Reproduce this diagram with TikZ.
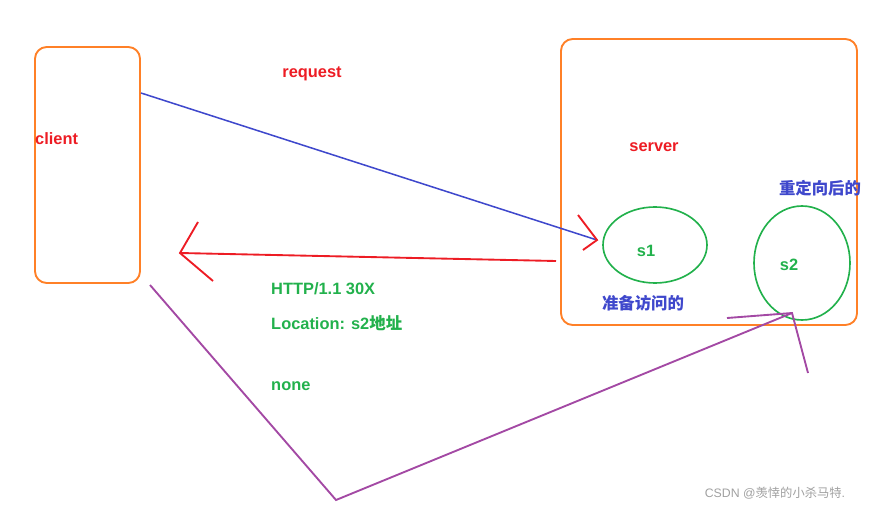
\documentclass[tikz,border=0pt]{standalone}
\usepackage{fontspec}
\setmainfont{Liberation Sans}
\newfontfamily\cjk{Noto Sans CJK SC}
\begin{document}
\begin{tikzpicture}[x=0.03cm,y=-0.03cm,
  box/.style={draw={rgb,255:red,255;green,128;blue,39},line width=1.6pt,rounded corners=10},
  ell/.style={draw={rgb,255:red,34;green,177;blue,76},line width=1.4pt},
  lbl/.style={font=\bfseries\fontsize{14}{16}\selectfont,inner sep=0pt},
  red/.style={text={rgb,255:red,237;green,28;blue,36}},
  grn/.style={text={rgb,255:red,34;green,177;blue,76}},
  blu/.style={text={rgb,255:red,63;green,72;blue,204}},
  bline/.style={draw={rgb,255:red,63;green,72;blue,204},line width=1.3pt},
  rline/.style={draw={rgb,255:red,237;green,28;blue,36},line width=1.6pt},
  pline/.style={draw={rgb,255:red,163;green,73;blue,164},line width=1.6pt}]
\useasboundingbox (0,0) rectangle (872,508);
\draw[box] (35,47) rectangle (140,283);
\draw[box] (561,39) rectangle (857,325);
\draw[ell] (655,245) ellipse [x radius=52,y radius=38];
\draw[ell] (802,263) ellipse [x radius=48,y radius=57];
\node[lbl,red,anchor=west] (client) at (35,139) {client};
\node[lbl,red] (req) at (312,74) {request};
\node[lbl,red] (server) at (654,147) {server};
\node[lbl,grn] (s1) at (646,251) {s1};
\node[lbl,grn] (s2) at (789,265) {s2};
\node[lbl,blu] (r2) at (820,188) {\cjk\bfseries 重定向后的};
\node[lbl,blu] (r1) at (643,303) {\cjk\bfseries 准备访问的};
\node[lbl,grn,anchor=west] (h) at (271,289) {HTTP/1.1 30X};
\node[lbl,grn,anchor=west] (loc) at (271,323) {Location: s2{\cjk\bfseries 地址}};
\node[lbl,grn,anchor=west] (none) at (271,386) {none};
\node[text={rgb,255:red,160;green,160;blue,160},font=\fontsize{10.5}{12}\selectfont,inner sep=0pt] (wm) at (775,493) {CSDN @{\cjk 羡悻的小杀马特}.};
\coordinate (b0) at (141,93); \coordinate (b1) at (597,240);
\draw[bline] (b0) -- (b1);
\draw[rline] (578,215) -- (b1) -- (583,250);
\coordinate (r0) at (556,261); \coordinate (r1) at (180,253);
\draw[rline] (r0) -- (r1);
\draw[rline] (198,222) -- (r1) -- (213,281);
\coordinate (p0) at (150,285); \coordinate (p1) at (336,500); \coordinate (p2) at (792,313);
\draw[pline] (p0) -- (p1) -- (p2);
\draw[pline] (727,318) -- (p2) -- (808,373);
\end{tikzpicture}
\end{document}
